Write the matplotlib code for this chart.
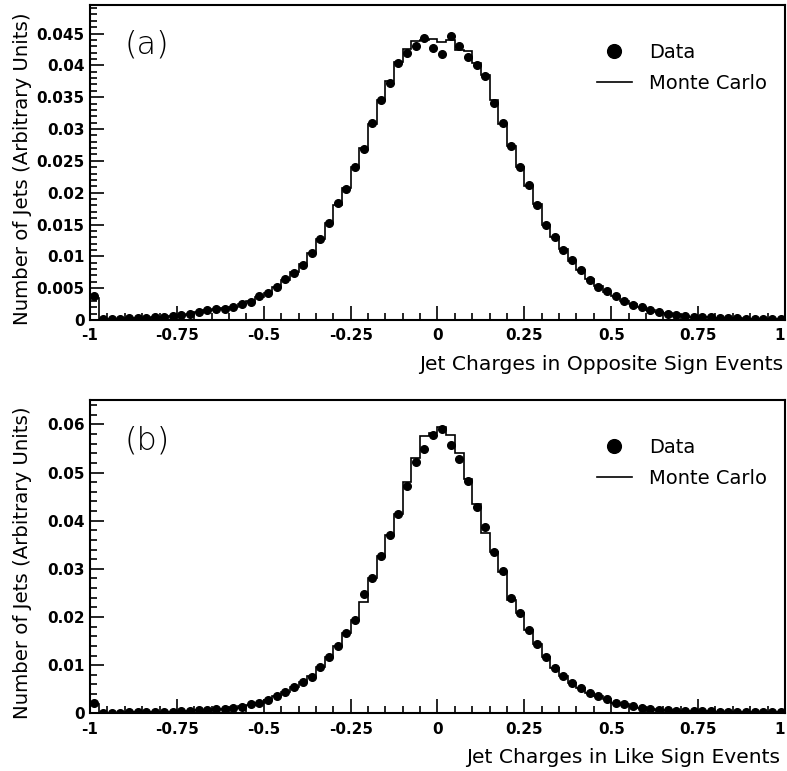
import numpy as np
import matplotlib
matplotlib.use('Agg')
import matplotlib.pyplot as plt
from matplotlib.ticker import MultipleLocator, FormatStrFormatter

# jet charge binning: 80 bins of width 0.025 between -1 and 1
bin_edges = np.linspace(-1, 1, 81)
bin_centers = 0.5 * (bin_edges[:-1] + bin_edges[1:])

# opposite sign events
os_data = [
    0.0037, 0.0002, 0.0002, 0.0002, 0.0003, 0.0003, 0.0003, 0.0004, 0.0005, 0.0006,
    0.0008, 0.0010, 0.0012, 0.0016, 0.0017, 0.0018, 0.0020, 0.0025, 0.0029, 0.0037,
    0.0042, 0.0052, 0.0064, 0.0074, 0.0086, 0.0106, 0.0128, 0.0153, 0.0183, 0.0205,
    0.0241, 0.0269, 0.0309, 0.0346, 0.0372, 0.0404, 0.0419, 0.0430, 0.0443, 0.0427,
    0.0418, 0.0446, 0.0430, 0.0413, 0.0400, 0.0383, 0.0341, 0.0309, 0.0273, 0.0241,
    0.0212, 0.0181, 0.0149, 0.0131, 0.0110, 0.0094, 0.0079, 0.0063, 0.0052, 0.0045,
    0.0037, 0.0030, 0.0024, 0.0020, 0.0016, 0.0013, 0.0010, 0.0008, 0.0006, 0.0005,
    0.0004, 0.0004, 0.0003, 0.0003, 0.0003, 0.0002, 0.0002, 0.0002, 0.0002, 0.0002,
]
os_mc = [
    0.0035, 0.0002, 0.0002, 0.0002, 0.0003, 0.0003, 0.0003, 0.0004, 0.0005, 0.0006,
    0.0008, 0.0010, 0.0012, 0.0015, 0.0017, 0.0019, 0.0021, 0.0025, 0.0030, 0.0036,
    0.0043, 0.0052, 0.0063, 0.0075, 0.0088, 0.0106, 0.0127, 0.0153, 0.0181, 0.0207,
    0.0240, 0.0270, 0.0308, 0.0346, 0.0375, 0.0405, 0.0425, 0.0438, 0.0440, 0.0441,
    0.0437, 0.0440, 0.0424, 0.0422, 0.0403, 0.0385, 0.0345, 0.0308, 0.0274, 0.0240,
    0.0211, 0.0182, 0.0150, 0.0130, 0.0111, 0.0093, 0.0079, 0.0064, 0.0053, 0.0044,
    0.0037, 0.0030, 0.0025, 0.0020, 0.0016, 0.0013, 0.0011, 0.0008, 0.0007, 0.0005,
    0.0004, 0.0004, 0.0003, 0.0003, 0.0003, 0.0002, 0.0002, 0.0002, 0.0002, 0.0002,
]

# like sign events
ls_data = [
    0.0021, 0.0001, 0.0001, 0.0001, 0.0002, 0.0002, 0.0002, 0.0002, 0.0003, 0.0003,
    0.0004, 0.0005, 0.0006, 0.0007, 0.0008, 0.0010, 0.0012, 0.0014, 0.0019, 0.0022,
    0.0028, 0.0036, 0.0045, 0.0055, 0.0066, 0.0076, 0.0097, 0.0118, 0.0140, 0.0166,
    0.0194, 0.0248, 0.0280, 0.0327, 0.0371, 0.0414, 0.0473, 0.0521, 0.0549, 0.0577,
    0.0590, 0.0558, 0.0528, 0.0482, 0.0428, 0.0386, 0.0336, 0.0296, 0.0239, 0.0209,
    0.0172, 0.0145, 0.0118, 0.0095, 0.0078, 0.0062, 0.0053, 0.0043, 0.0036, 0.0029,
    0.0021, 0.0019, 0.0015, 0.0012, 0.0009, 0.0007, 0.0006, 0.0005, 0.0005, 0.0004,
    0.0004, 0.0004, 0.0003, 0.0003, 0.0003, 0.0003, 0.0002, 0.0002, 0.0002, 0.0002,
]
ls_mc = [
    0.0020, 0.0001, 0.0001, 0.0001, 0.0002, 0.0002, 0.0002, 0.0002, 0.0003, 0.0003,
    0.0004, 0.0005, 0.0006, 0.0007, 0.0008, 0.0010, 0.0012, 0.0015, 0.0018, 0.0022,
    0.0028, 0.0036, 0.0045, 0.0055, 0.0066, 0.0078, 0.0097, 0.0118, 0.0140, 0.0166,
    0.0194, 0.0232, 0.0280, 0.0327, 0.0371, 0.0414, 0.0480, 0.0530, 0.0575, 0.0583,
    0.0595, 0.0577, 0.0540, 0.0486, 0.0434, 0.0374, 0.0336, 0.0294, 0.0235, 0.0209,
    0.0172, 0.0145, 0.0118, 0.0095, 0.0078, 0.0062, 0.0053, 0.0043, 0.0036, 0.0029,
    0.0021, 0.0019, 0.0015, 0.0012, 0.0009, 0.0007, 0.0006, 0.0005, 0.0005, 0.0004,
    0.0004, 0.0004, 0.0003, 0.0003, 0.0003, 0.0003, 0.0002, 0.0002, 0.0002, 0.0002,
]

x_ticks = [-1, -0.75, -0.5, -0.25, 0, 0.25, 0.5, 0.75, 1]
x_ticklabels = ['-1', '-0.75', '-0.5', '-0.25', '0', '0.25', '0.5', '0.75', '1']

tick_font = dict(family='DejaVu Sans', weight='bold', size=11)


def draw_panel(ax, data, mc, tag, xlabel, ymax, ymajor, yminor, yfmt, xlab_x):
    '''
    One jet charge panel: data points on top of the Monte Carlo histogram.
    '''
    ax.stairs(mc, bin_edges, color='black', lw=1.2, label='Monte Carlo')
    ax.plot(bin_centers, data, 'o', color='black', ms=5.5, label='Data')

    ax.set_xlim(-1, 1)
    ax.set_ylim(0, ymax)
    ax.set_xticks(x_ticks)
    ax.set_xticklabels(x_ticklabels)
    ax.xaxis.set_minor_locator(MultipleLocator(0.05))
    ax.yaxis.set_major_locator(MultipleLocator(ymajor))
    ax.yaxis.set_minor_locator(MultipleLocator(yminor))
    ax.yaxis.set_major_formatter(FormatStrFormatter(yfmt))
    ax.tick_params(which='both', direction='in', top=False, right=False,
                   width=1.2)
    ax.tick_params(axis='x', pad=6)
    ax.tick_params(axis='y', pad=4)
    ax.tick_params(which='major', length=10)
    ax.tick_params(which='minor', length=5)
    for lab in ax.get_xticklabels() + ax.get_yticklabels():
        lab.set_fontproperties(tick_font)
    # the last label sits flush with the right edge of the frame
    ax.get_xticklabels()[-1].set_horizontalalignment('right')
    for sp in ax.spines.values():
        sp.set_linewidth(1.5)

    ax.set_ylabel('Number of Jets (Arbitrary Units)', fontsize=14.2)
    ax.yaxis.set_label_coords(-0.083, 0.48)
    ax.set_xlabel(xlabel, fontsize=14.6, ha='right', va='center')
    ax.xaxis.set_label_coords(xlab_x, -0.14)

    ax.text(0.05, 0.873, tag, transform=ax.transAxes, fontsize=23,
            fontweight='light', va='center', ha='left')

    handles, labels = ax.get_legend_handles_labels()
    ax.legend(handles[::-1], labels[::-1], loc='upper left',
              bbox_to_anchor=(0.715, 0.91), frameon=False, fontsize=14,
              markerscale=1.8, handlelength=1.8, handletextpad=0.9,
              labelspacing=0.6, borderpad=0)


fig = plt.figure(figsize=(7.87, 7.71), dpi=100)
ax_a = fig.add_axes([0.1144, 0.585, 0.883, 0.4086])
ax_b = fig.add_axes([0.1144, 0.0748, 0.883, 0.406])

draw_panel(ax_a, os_data, os_mc, '(a)', 'Jet Charges in Opposite Sign Events',
           0.0495, 0.005, 0.001, '%g', 0.998)
draw_panel(ax_b, ls_data, ls_mc, '(b)', 'Jet Charges in Like Sign Events',
           0.065, 0.01, 0.002, '%g', 0.993)

fig.savefig('out.png', dpi=100)
